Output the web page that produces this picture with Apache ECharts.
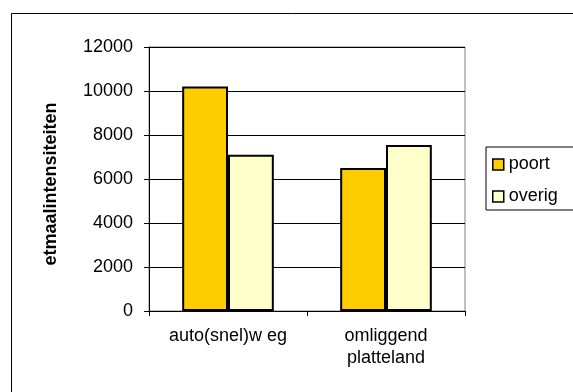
<!DOCTYPE html>
<html>
<head>
<meta charset="utf-8">
<script src="https://cdn.jsdelivr.net/npm/echarts@6/dist/echarts.min.js"></script>
<style>
  html, body { margin: 0; padding: 0; background: #fff; }
  #chart { width: 573px; height: 392px; }
</style>
</head>
<body>
<div id="chart"></div>
<script>
// Daily traffic intensities per area type
const categories = ['auto(snel)w eg', 'omliggend\nplatteland'];
const poort = [10200, 6500];
const overig = [7100, 7550];
const yTicks = { min: 0, max: 12000, interval: 2000 };

const FONT = '"Liberation Sans", Arial, sans-serif';

const chart = echarts.init(document.getElementById('chart'), null, { renderer: 'canvas' });

chart.setOption({
  backgroundColor: '#ffffff',
  animation: false,
  graphic: [{
    type: 'rect',
    silent: true,
    shape: { x: 11.5, y: 13.5, width: 620, height: 420 },
    style: { fill: 'none', stroke: '#000000', lineWidth: 1 }
  }],
  grid: {
    left: 149, top: 47, width: 316, height: 264,
    show: true, borderColor: '#808080', borderWidth: 1,
    backgroundColor: 'transparent'
  },
  legend: {
    left: 486, top: 147,
    orient: 'vertical',
    data: ['poort', 'overig'],
    icon: 'rect',
    itemWidth: 11, itemHeight: 11,
    itemGap: 11,
    padding: [7, 40, 3, 6],
    borderColor: '#000000', borderWidth: 1,
    backgroundColor: '#ffffff',
    itemStyle: { borderColor: '#000000', borderWidth: 1.5 },
    textStyle: { fontFamily: FONT, fontSize: 18, color: '#000', lineHeight: 21 }
  },
  xAxis: {
    type: 'category',
    data: categories,
    axisLine: { show: true, lineStyle: { color: '#000', width: 1 } },
    axisTick: { show: true, alignWithLabel: false, length: 5, lineStyle: { color: '#000' } },
    axisLabel: {
      fontFamily: FONT, fontSize: 18, color: '#000',
      lineHeight: 22, margin: 14, interval: 0
    },
    splitLine: { show: false }
  },
  yAxis: {
    type: 'value',
    min: yTicks.min, max: yTicks.max, interval: yTicks.interval,
    name: 'etmaalintensiteiten',
    nameLocation: 'middle',
    nameRotate: 90,
    nameGap: 89,
    nameTextStyle: {
      fontFamily: FONT, fontSize: 18, fontWeight: 'bold', color: '#000',
      padding: [0, 10, 0, 0]
    },
    axisLine: { show: true, lineStyle: { color: '#000', width: 1 } },
    axisTick: { show: true, inside: false, length: 5, lineStyle: { color: '#000' } },
    axisLabel: {
      fontFamily: FONT, fontSize: 18, color: '#000', margin: 16,
      formatter: (v) => String(v)
    },
    splitLine: { show: true, lineStyle: { color: '#000', width: 1 } }
  },
  series: [
    {
      name: 'poort', type: 'bar', data: poort,
      barGap: '0%', barCategoryGap: '42%',
      itemStyle: { color: '#FFCC00', borderColor: '#000', borderWidth: 2 }
    },
    {
      name: 'overig', type: 'bar', data: overig,
      barGap: '0%', barCategoryGap: '42%',
      itemStyle: { color: '#FFFFCC', borderColor: '#000', borderWidth: 2 }
    }
  ]
});
</script>
</body>
</html>
